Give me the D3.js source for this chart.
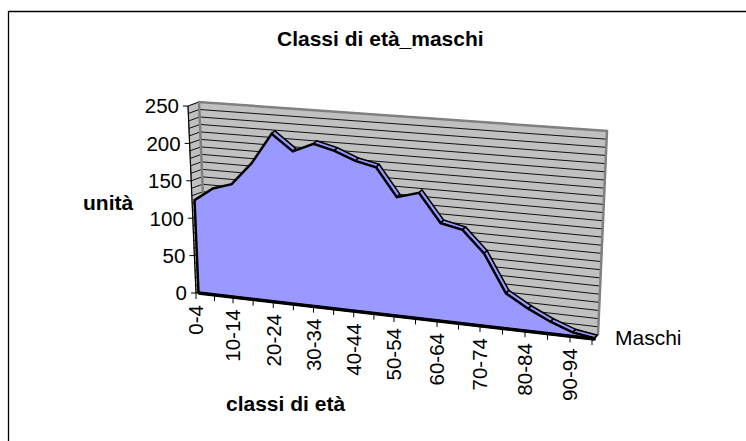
<!DOCTYPE html>
<html>
<head>
<meta charset="utf-8">
<script src="https://cdn.jsdelivr.net/npm/d3@7"></script>
<style>
  html, body { margin:0; padding:0; background:#fff; }
  svg { display:block; }
  text { font-family:"Liberation Sans", Arial, sans-serif; fill:#000; }
</style>
</head>
<body>
<svg id="drawing_region" width="746" height="441"></svg>
<script>
const categories = ['0-4','5-9','10-14','15-19','20-24','25-29','30-34','35-39','40-44','45-49',
    '50-54','55-59','60-64','65-69','70-74','75-79','80-84','85-89','90-94','95-99'];
const maschi = [124,142,150,180,221,200,212,205,194,188,152,160,124,118,91,44,28,15,5,1];
const y_ticks = [0,50,100,150,200,250];
const grid_values = d3.range(0, 251, 10);

const svg = d3.select('#drawing_region');

// fake perspective: the floor runs downhill and widens to the right
const index = d3.scaleLinear().domain([0, 2, 10, 14, 18, 19]).range([196, 233, 394, 480, 570, 592]);
const base_y = d3.scaleLinear().domain([196, 592]).range([293, 339]);
const lean = d3.scaleLinear().domain([196, 592]).range([-8, 9]);
const rise = d3.scaleLinear().domain([196, 592]).range([187, 204]);
const depth_x = d3.scaleLinear().domain([196, 592]).range([11, 6]);
const value = d3.scaleLinear().domain([0, 250]).range([0, 1]);

const t0 = 196, t1 = 592;
const area_shift = 2.5;

const front = (t, v) => [
    t + lean(t) * value(v),
    base_y(t) - rise(t) * value(v)
];
const back = (t, v) => {
    const p = front(t, v);
    return [p[0] + depth_x(t), p[1] - 4];
};
const on_area = (t, v) => {
    const p = front(t, v);
    return [p[0] + area_shift, p[1]];
};
const line = d3.line();

// only the top and left edges of the frame show
svg.append('path')
    .attr('d', 'M8.5,441V11.5H746')
    .attr('fill', 'none').attr('stroke', '#000').attr('stroke-width', 1.3);

// side wall and back wall
svg.append('path')
    .attr('d', line([front(t0,0), back(t0,0), back(t0,250), front(t0,250)]) + 'Z')
    .attr('fill', '#c0c0c0').attr('stroke', '#808080').attr('stroke-width', 1);
svg.append('path')
    .attr('d', line([back(t0,0), back(t1,0), back(t1,250), back(t0,250)]) + 'Z')
    .attr('fill', '#c0c0c0');

svg.append('g').selectAll('path')
    .data(grid_values)
    .join('path')
    .attr('d', d => line([front(t0,d), back(t0,d), back(t1,d)]))
    .attr('fill', 'none').attr('stroke', '#111').attr('stroke-width', 1);

// thick grey wall edges
svg.append('path')
    .attr('d', line([back(t0,0), back(t0,250), back(t1,250), back(t1,0)]))
    .attr('fill', 'none').attr('stroke', '#808080').attr('stroke-width', 2.5);

// area: thin top strip on the falling segments, then the front face
const ts = categories.map((c, i) => index(i));
const top_front = maschi.map((d, i) => on_area(ts[i], d));
const strip = {x:3, y:-3};
const up = p => [p[0] + strip.x, p[1] + strip.y];

svg.append('g').selectAll('path')
    .data(d3.range(maschi.length - 1).filter(i => maschi[i + 1] < maschi[i]))
    .join('path')
    .attr('d', i => line([top_front[i], top_front[i + 1], up(top_front[i + 1]), up(top_front[i])]) + 'Z')
    .attr('fill', '#9999ff').attr('stroke', '#000').attr('stroke-width', 1.6)
    .attr('stroke-linejoin', 'round');

svg.append('path')
    .attr('d', line([on_area(t0,0)].concat(top_front, [on_area(t1,0)])) + 'Z')
    .attr('fill', '#9999ff').attr('stroke', '#000').attr('stroke-width', 2.5)
    .attr('stroke-linejoin', 'miter');

// thick floor edge
svg.append('path')
    .attr('d', line([on_area(t0,0), on_area(t1,0)]))
    .attr('fill', 'none').attr('stroke', '#000').attr('stroke-width', 3.5);

// value axis
svg.append('path')
    .attr('d', line([front(t0,0), front(t0,250)]))
    .attr('fill', 'none').attr('stroke', '#000').attr('stroke-width', 1.2);
const y_axis = svg.append('g').selectAll('g').data(y_ticks).join('g')
    .attr('transform', d => `translate(${front(t0,d)})`);
y_axis.append('line').attr('x1', -5).attr('x2', 0).attr('stroke', '#000');
y_axis.append('text')
    .attr('x', -9).attr('dy', '0.36em')
    .attr('text-anchor', 'end').attr('font-size', 20.5)
    .text(d => d);

// category axis
const x_ticks = svg.append('g').selectAll('g').data(categories).join('g')
    .attr('transform', (d, i) => `translate(${front(ts[i],0)})`);
x_ticks.append('line').attr('y1', 0).attr('y2', 6).attr('stroke', '#000');
x_ticks.filter((d, i) => i % 2 === 0).append('text')
    .attr('transform', 'translate(0,12) rotate(-90)')
    .attr('dy', '0.36em')
    .attr('text-anchor', 'end').attr('font-size', 20.5)
    .text(d => d);

// series axis tick and name
svg.append('line')
    .attr('x1', front(t1,0)[0]).attr('y1', front(t1,0)[1])
    .attr('x2', back(t1,0)[0]).attr('y2', back(t1,0)[1])
    .attr('stroke', '#000');
svg.append('text')
    .attr('x', 615).attr('y', 345)
    .attr('font-size', 21)
    .text('Maschi');

// titles
const bold_text = (x, y, label) => svg.append('text')
    .attr('x', x).attr('y', y)
    .attr('font-size', 21)
    .attr('font-weight', 'bold')
    .text(label);
bold_text(277, 46, 'Classi di età_maschi');
bold_text(83, 210, 'unità');
bold_text(226, 411, 'classi di età');
</script>
</body>
</html>
